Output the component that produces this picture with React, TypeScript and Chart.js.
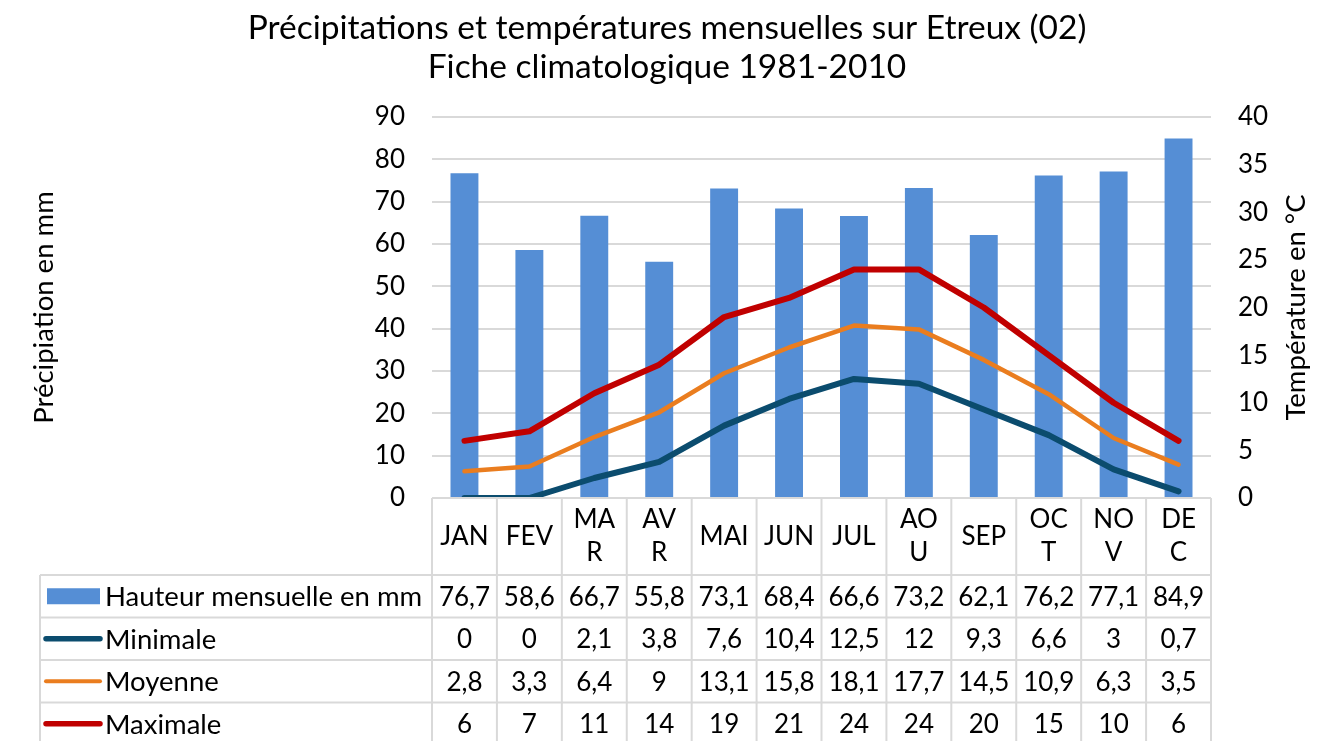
import React, { useEffect, useRef } from 'react';
import { Chart, registerables } from 'chart.js';

Chart.register(...registerables);

// ---------------- data ----------------
const categories = ['JAN', 'FEV', 'MAR', 'AVR', 'MAI', 'JUN', 'JUL', 'AOU', 'SEP', 'OCT', 'NOV', 'DEC'];
const categoryTickLines = [
  ['JAN'], ['FEV'], ['MA', 'R'], ['AV', 'R'], ['MAI'], ['JUN'],
  ['JUL'], ['AO', 'U'], ['SEP'], ['OC', 'T'], ['NO', 'V'], ['DE', 'C'],
];
const hauteur = [76.7, 58.6, 66.7, 55.8, 73.1, 68.4, 66.6, 73.2, 62.1, 76.2, 77.1, 84.9];
const minimale = [0, 0, 2.1, 3.8, 7.6, 10.4, 12.5, 12, 9.3, 6.6, 3, 0.7];
const moyenne = [2.8, 3.3, 6.4, 9, 13.1, 15.8, 18.1, 17.7, 14.5, 10.9, 6.3, 3.5];
const maximale = [6, 7, 11, 14, 19, 21, 24, 24, 20, 15, 10, 6];
const seriesNames = ['Hauteur mensuelle en mm', 'Minimale', 'Moyenne', 'Maximale'];
const precipAxis = { min: 0, max: 90, step: 10 };
const tempAxis = { min: 0, max: 40, step: 5 };
const titleLines = ['Précipitations et températures mensuelles sur Etreux (02)', 'Fiche climatologique 1981-2010'];
const leftAxisTitle = 'Précipiation en mm';
const rightAxisTitle = 'Température en °C';

// ---------------- styles ----------------
const FONT = 'Lato';
const BAR_COLOR = '#558ED5';
const MIN_COLOR = '#0B4C6E';
const MOY_COLOR = '#EA7D1F';
const MAX_COLOR = '#C00000';
const GRID = '#d9d9d9';

const W = 1334;
const H = 741;

const fmt = (v: number) => String(v).replace('.', ',');

const tablePlugin = {
  id: 'dataTable',
  afterDraw(chart: any) {
    const ctx: CanvasRenderingContext2D = chart.ctx;
    const xs = chart.scales.x;
    const area = chart.chartArea;
    const n = categories.length;
    const cw = (area.right - area.left) / n;
    const top = area.bottom;
    const catBottom = top + 77;
    const rowH = 42.5;
    const tableLeft = 40;
    const tableBottom = catBottom + rowH * 4;

    ctx.save();
    ctx.strokeStyle = GRID;
    ctx.lineWidth = 2;
    const line = (x1: number, y1: number, x2: number, y2: number) => {
      ctx.beginPath();
      ctx.moveTo(x1, y1);
      ctx.lineTo(x2, y2);
      ctx.stroke();
    };
    line(area.left, top, area.right, top);
    for (let r = 0; r <= 4; r++) line(tableLeft, catBottom + r * rowH, area.right, catBottom + r * rowH);
    for (let i = 0; i <= n; i++) {
      const xx = area.left + i * cw;
      line(xx, top, xx, tableBottom);
    }
    line(tableLeft, catBottom, tableLeft, tableBottom);

    // category labels
    ctx.fillStyle = '#000';
    ctx.font = `26px ${FONT}`;
    ctx.textAlign = 'center';
    ctx.textBaseline = 'middle';
    const catMid = (top + catBottom) / 2;
    categoryTickLines.forEach((lines, i) => {
      const cx = xs.getPixelForValue(i);
      const lh = 33;
      lines.forEach((t, k) => {
        const y = catMid + (k - (lines.length - 1) / 2) * lh;
        ctx.fillText(t, cx, y);
      });
    });

    // rows
    const rows = [hauteur, minimale, moyenne, maximale];
    rows.forEach((vals, r) => {
      const cy = catBottom + rowH * (r + 0.5);
      vals.forEach((v, i) => {
        ctx.fillText(fmt(v), xs.getPixelForValue(i), cy + 1);
      });
    });

    // legend keys
    rows.forEach((_, r) => {
      const cy = catBottom + rowH * (r + 0.5);
      if (r === 0) {
        ctx.fillStyle = BAR_COLOR;
        ctx.fillRect(47, cy - 8, 53, 16);
      } else {
        ctx.strokeStyle = [MIN_COLOR, MOY_COLOR, MAX_COLOR][r - 1];
        ctx.lineWidth = r === 2 ? 4 : 5.5;
        ctx.lineCap = 'round';
        line(46, cy, 100, cy);
      }
      ctx.fillStyle = '#000';
      ctx.textAlign = 'left';
      ctx.font = `27.5px ${FONT}`;
      ctx.fillText(seriesNames[r], 105, cy + 1);
    });

    // right axis title (reads bottom to top)
    ctx.save();
    ctx.translate(area.right + 85, (area.top + area.bottom) / 2);
    ctx.rotate(-Math.PI / 2);
    ctx.textAlign = 'center';
    ctx.textBaseline = 'middle';
    ctx.font = `27.5px ${FONT}`;
    ctx.fillText(rightAxisTitle, 0, 0);
    ctx.restore();

    ctx.restore();
  },
};

export default function App() {
  const ref = useRef<HTMLCanvasElement | null>(null);

  useEffect(() => {
    let chart: Chart | null = null;
    let cancelled = false;
    const build = () => {
      if (cancelled || !ref.current) return;
      chart = new Chart(ref.current, {
        type: 'bar',
        data: {
          labels: categories,
          datasets: [
            {
              type: 'line',
              label: seriesNames[1],
              data: minimale,
              yAxisID: 'y1',
              borderColor: MIN_COLOR,
              borderWidth: 6,
              pointRadius: 0,
              tension: 0,
              borderCapStyle: 'round',
              borderJoinStyle: 'round',
              order: 1,
            } as any,
            {
              type: 'line',
              label: seriesNames[2],
              data: moyenne,
              yAxisID: 'y1',
              borderColor: MOY_COLOR,
              borderWidth: 4.5,
              pointRadius: 0,
              tension: 0,
              borderCapStyle: 'round',
              borderJoinStyle: 'round',
              order: 2,
            } as any,
            {
              type: 'line',
              label: seriesNames[3],
              data: maximale,
              yAxisID: 'y1',
              borderColor: MAX_COLOR,
              borderWidth: 6,
              pointRadius: 0,
              tension: 0,
              borderCapStyle: 'round',
              borderJoinStyle: 'round',
              order: 3,
            } as any,
            {
              type: 'bar',
              label: seriesNames[0],
              data: hauteur,
              yAxisID: 'y',
              backgroundColor: BAR_COLOR,
              barPercentage: 0.43,
              categoryPercentage: 1,
              order: 10,
            } as any,
          ],
        },
        options: {
          responsive: false,
          animation: false,
          layout: { padding: 0 },
          plugins: {
            legend: { display: false },
            tooltip: { enabled: false },
            title: {
              display: true,
              text: titleLines,
              color: '#000',
              font: { family: FONT, size: 33.5, weight: 'normal', lineHeight: 39 / 33.5 },
              padding: { top: 9, bottom: 30 },
            },
          },
          scales: {
            x: {
              display: true,
              grid: { display: false },
              border: { display: false },
              ticks: { display: false },
              afterFit: (s: any) => {
                s.height = H - 498;
              },
            },
            y: {
              position: 'left',
              min: precipAxis.min,
              max: precipAxis.max,
              ticks: {
                stepSize: precipAxis.step,
                color: '#000',
                font: { family: FONT, size: 26 },
                padding: 27,
              },
              grid: { color: GRID, lineWidth: 2, drawTicks: false },
              border: { display: false },
              title: {
                display: true,
                text: leftAxisTitle,
                color: '#000',
                font: { family: FONT, size: 27.5 },
                padding: { top: 28, bottom: 0 },
              },
              afterFit: (s: any) => {
                s.width = 432;
              },
            },
            y1: {
              position: 'right',
              min: tempAxis.min,
              max: tempAxis.max,
              ticks: {
                stepSize: tempAxis.step,
                color: '#000',
                font: { family: FONT, size: 26 },
                padding: 27,
              },
              grid: { display: false, drawTicks: false },
              border: { display: false },
              afterFit: (s: any) => {
                s.width = W - 1211;
              },
            },
          },
        },
        plugins: [tablePlugin],
      } as any);
    };
    const fontsApi = (document as any).fonts;
    if (fontsApi && fontsApi.load) {
      Promise.all([fontsApi.load(`26px ${FONT}`), fontsApi.load(`22px ${FONT}`)])
        .catch(() => undefined)
        .then(build);
    } else {
      build();
    }
    return () => {
      cancelled = true;
      if (chart) chart.destroy();
    };
  }, []);

  return (
    <div style={{ position: 'absolute', left: 0, top: 0, width: W, height: H, background: '#fff' }}>
      <canvas ref={ref} width={W} height={H} style={{ width: W, height: H, display: 'block' }} />
    </div>
  );
}
